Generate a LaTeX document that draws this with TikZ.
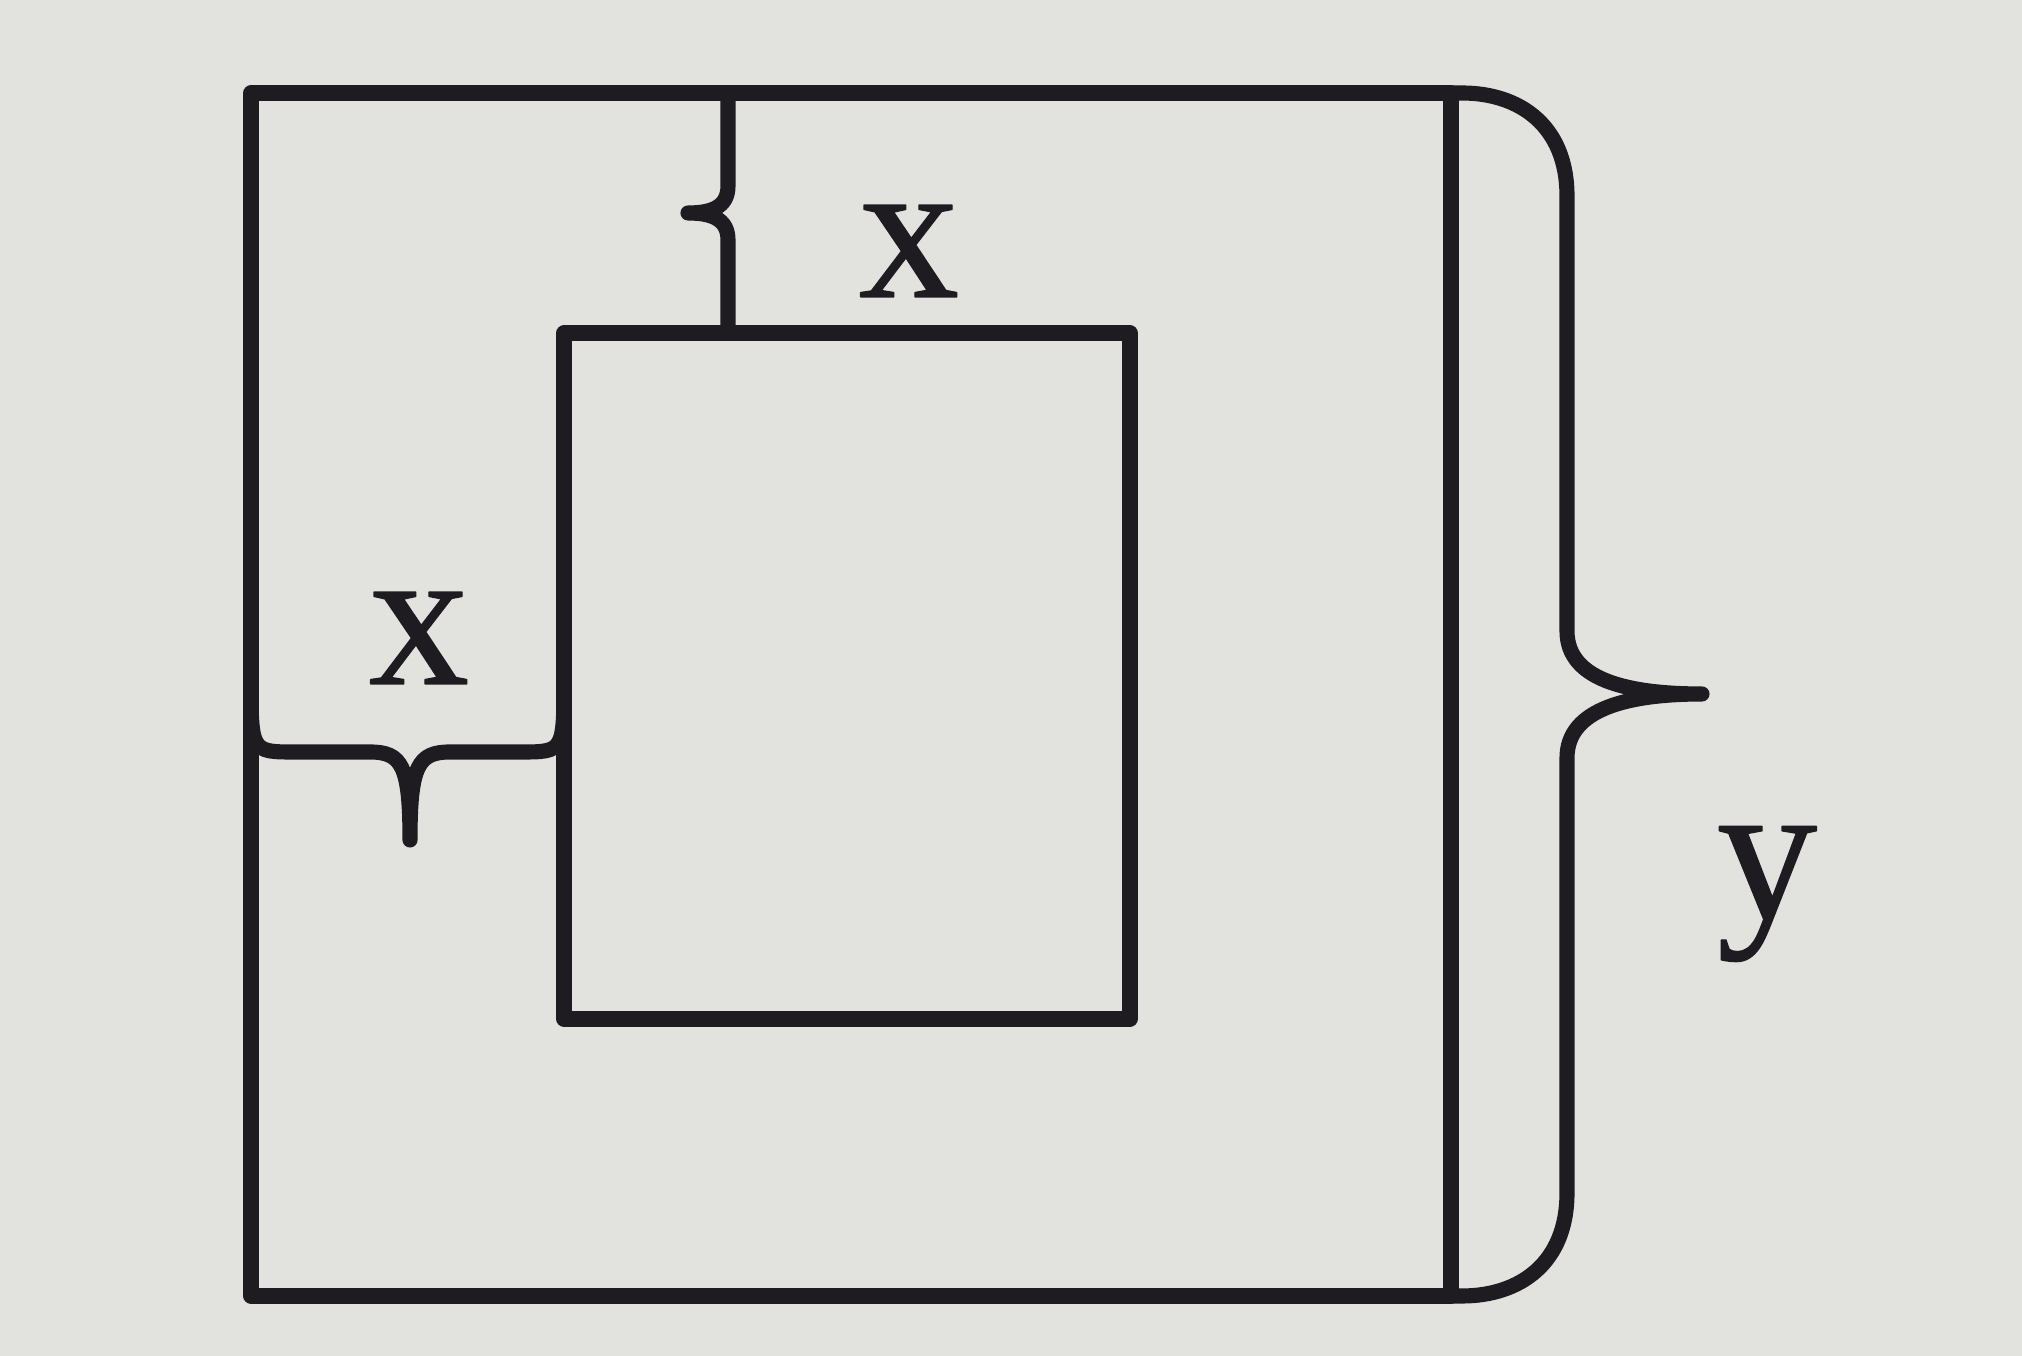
\documentclass[tikz,border=0pt]{standalone}
\usepackage{fontspec}
\setmainfont{Liberation Serif}
\newfontfamily\labfont[FakeBold=0.7]{Liberation Serif}
\usetikzlibrary{calc}
\definecolor{paper}{RGB}{226,226,223}
\definecolor{ink}{RGB}{30,28,32}

\begin{document}
\begin{tikzpicture}[line cap=round, line join=round, line width=4.3pt, draw=ink,
	lab/.style={text=ink, font=\labfont\fontsize{57}{60}\selectfont}]
% background (fixes the size)
\fill[paper] (0,0) rectangle (20.22,13.56);

%========================
% boxes
%========================
\coordinate (oSW) at (2.51,0.60);
\coordinate (oNE) at (14.51,12.63);
\coordinate (iSW) at (5.64,3.37);
\coordinate (iNE) at (11.30,10.23);
\draw[ink] (oSW) rectangle (oNE);
\draw[ink] (iSW) rectangle (iNE);

%========================
% top brace: gap x
%========================
\draw[ink] (7.28,12.63) -- (7.28,11.70)
	.. controls (7.28,11.48) and (7.10,11.43) .. (6.88,11.43)
	.. controls (7.10,11.43) and (7.28,11.38) .. (7.28,11.16) -- (7.28,10.23);
\node[lab] (xtop) at (9.09,11.05) {x};

%========================
% left brace: gap x
%========================
\draw[ink] (2.51,6.79) .. controls (2.51,6.04) .. (2.95,6.04) -- (3.70,6.04)
	.. controls (4.02,6.04) and (4.10,5.90) .. (4.10,5.16)
	.. controls (4.10,5.90) and (4.18,6.04) .. (4.50,6.04) -- (5.20,6.04)
	.. controls (5.64,6.04) .. (5.64,6.79);
\node[lab] (xleft) at (4.19,7.18) {x};

%========================
% right brace: side y
%========================
\draw[ink] (oNE) -- (14.62,12.63) .. controls (15.20,12.63) and (15.67,12.30) .. (15.67,11.60)
	-- (15.67,7.25) .. controls (15.67,6.75) and (16.30,6.62) .. (17.02,6.62)
	.. controls (16.30,6.62) and (15.67,6.48) .. (15.67,5.98)
	-- (15.67,1.63) .. controls (15.67,0.93) and (15.20,0.60) .. (14.62,0.60) -- (14.51,0.60);
\node[lab] (yright) at (17.67,4.62) {y};
\end{tikzpicture}
\end{document}
